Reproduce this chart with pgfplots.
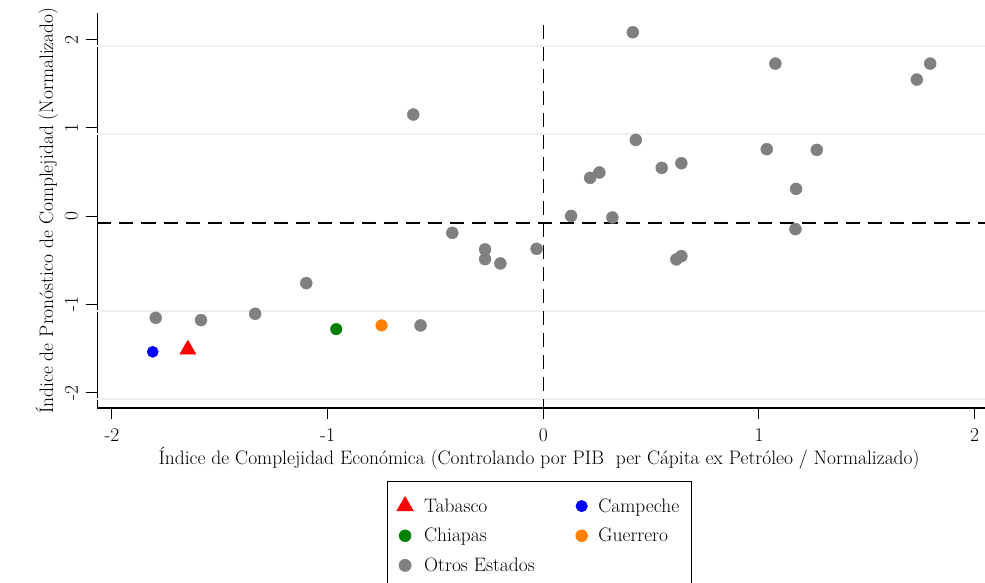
\documentclass[border=0pt]{standalone}
\usepackage{pgfplots}
\pgfplotsset{compat=1.18}

\definecolor{stgray}{RGB}{128,128,128}
\definecolor{storange}{RGB}{255,127,0}
\definecolor{stgreen}{RGB}{0,128,0}
\definecolor{gridc}{RGB}{234,242,243}

\newcommand{\bigf}{\fontsize{19.5}{23}\selectfont}

\begin{document}
\begin{tikzpicture}
\useasboundingbox (-97.5pt,-174pt) rectangle (887.5pt,408pt);
\begin{axis}[
    at={(0,0)}, anchor=south west,
    scale only axis,
    width=887.5pt, height=394.7pt,
    xmin=-2.067, xmax=2.048,
    ymin=-2.174, ymax=2.299,
    axis lines*=left,
    axis line style={line width=1.1pt},
    xtick={-2,-1,0,1,2},
    ytick={-2,-1,0,1,2},
    tick align=outside,
    major tick length=11pt,
    tick style={black, line width=1pt},
    /pgf/number format/assume math mode=true,
    tick label style={font=\bigf},
    label style={font=\bigf},
    yticklabel style={rotate=90, anchor=south},
    xticklabel style={anchor=north},
    yticklabel shift=5pt,
    xticklabel shift=6pt,
    extra y ticks={1.927,0.927,-1.073,-2.073},
    extra y tick labels={},
    extra y tick style={grid=major, major tick length=0pt,
        major grid style={gridc, line width=1.8pt}},
    xlabel={Índice de Complejidad Económica (Controlando por PIB\ \ per Cápita ex Petróleo / Normalizado)},
    ylabel={Índice de Pronóstico de Complejidad (Normalizado)},
    xlabel style={at={(axis description cs:0.4975,-0.127)}, anchor=center},
    ylabel style={at={(axis description cs:-0.0572,0.5)}, anchor=center},
    clip=false,
    legend columns=2,
    legend cell align=left,
    legend style={at={(0.3258,-0.1853)}, anchor=north west, font=\bigf,
        draw=black, line width=0.8pt, inner xsep=10pt, inner ysep=15pt,
        /tikz/every odd column/.append style={column sep=9pt},
        /tikz/every even column/.append style={column sep=39pt},
        row sep=10.5pt},
]
\draw[black, line width=1.3pt, dash pattern=on 14pt off 8pt]
    (axis cs:0,2.163) -- (axis cs:0,-2.174);
\draw[black, line width=1.3pt, dash pattern=on 14pt off 8pt]
    (axis cs:-2.067,-0.076) -- (axis cs:2.048,-0.076);

\addplot[only marks, mark=triangle*, mark size=9.3pt, color=red]
    coordinates {(-1.648,-1.510)};
\addlegendentry{Tabasco}
\addplot[only marks, mark=*, mark size=5.6pt, color=blue]
    coordinates {(-1.811,-1.537)};
\addlegendentry{Campeche}
\addplot[only marks, mark=*, mark size=5.8pt, color=stgreen]
    coordinates {(-0.960,-1.280)};
\addlegendentry{Chiapas}
\addplot[only marks, mark=*, mark size=5.8pt, color=storange]
    coordinates {(-0.750,-1.238)};
\addlegendentry{Guerrero}
\addplot[only marks, mark=*, mark size=6pt, color=stgray]
    coordinates {
    (-1.797,-1.152) (-1.587,-1.178) (-1.336,-1.106) (-1.099,-0.759)
    (-0.603,1.152) (-0.569,-1.238) (-0.422,-0.189) (-0.270,-0.377)
    (-0.270,-0.487) (-0.199,-0.536) (-0.031,-0.370) (0.129,0.003)
    (0.217,0.434) (0.260,0.495) (0.320,-0.015) (0.415,2.084)
    (0.429,0.864) (0.549,0.547) (0.640,0.600) (0.617,-0.490)
    (0.640,-0.453) (1.036,0.759) (1.076,1.729) (1.172,0.309)
    (1.169,-0.147) (1.268,0.751) (1.732,1.548) (1.794,1.729)
    };
\addlegendentry{Otros Estados}
\end{axis}
\end{tikzpicture}
\end{document}
